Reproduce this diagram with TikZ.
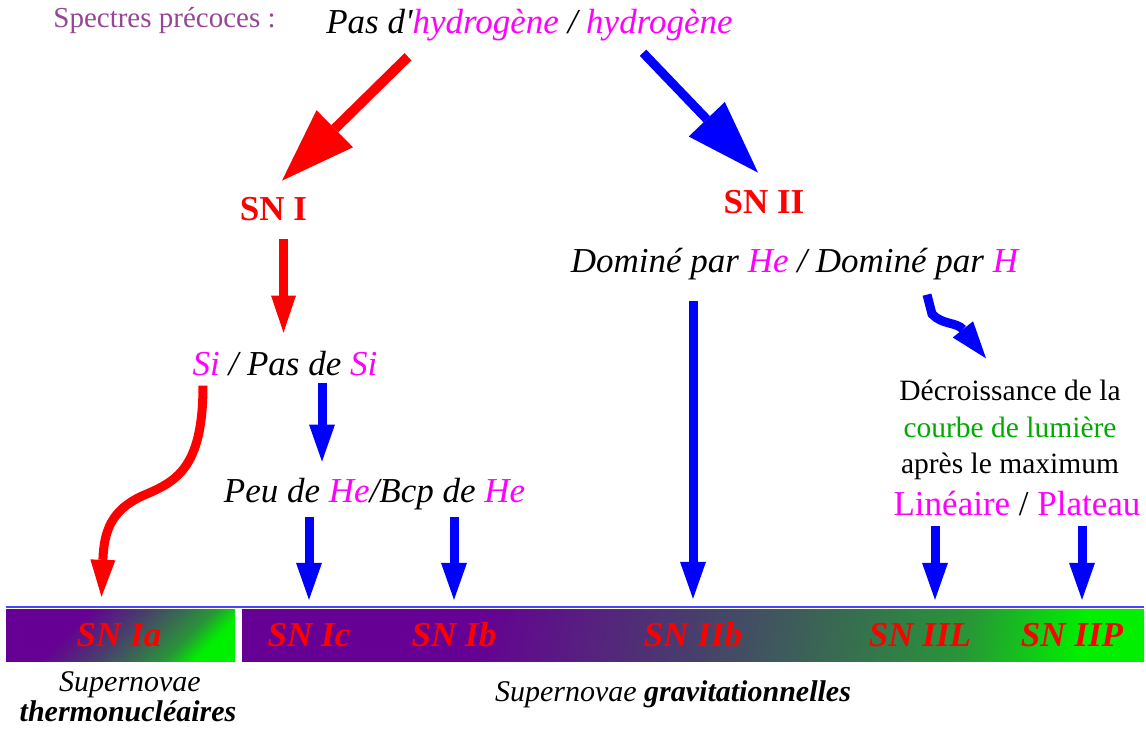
\documentclass[tikz,border=0pt]{standalone}
\usepackage{fontspec}
\setmainfont{Liberation Serif}
\usetikzlibrary{arrows.meta}

\definecolor{snred}{RGB}{255,0,0}
\definecolor{snblue}{RGB}{0,0,255}
\definecolor{hmag}{RGB}{255,0,255}
\definecolor{spcol}{RGB}{150,70,150}
\definecolor{lumgreen}{RGB}{0,170,0}
\definecolor{bandpurple}{RGB}{102,0,148}
\definecolor{bandmid}{RGB}{72,62,108}
\definecolor{bandgrey}{RGB}{55,110,80}
\definecolor{banddark}{RGB}{40,150,55}
\definecolor{bandgreen}{RGB}{0,240,0}
\definecolor{lineblue}{RGB}{70,70,255}

\pgfdeclarehorizontalshading{bandshade}{100bp}{color(0bp)=(bandpurple); color(25bp)=(bandpurple);
	color(36bp)=(bandpurple); color(50bp)=(bandmid); color(60bp)=(bandgrey); color(67.5bp)=(banddark);
	color(75bp)=(bandgreen); color(100bp)=(bandgreen)}

\newcommand{\setsz}[1]{\fontsize{#1}{#1}\selectfont}

\begin{document}
\begin{tikzpicture}[x=1pt,y=-1pt,
	every node/.style={inner sep=0pt,anchor=base},
	it/.style={font=\setsz{35}\itshape},
	sn/.style={font=\setsz{35}\bfseries,text=snred},
	lab/.style={font=\setsz{35}\bfseries\itshape,text=snred},
	redarr/.style={draw=snred,line width=9pt,-{Triangle[width=25pt,length=37pt,line width=0pt]}},
	bluearr/.style={draw=snblue,line width=9pt,-{Triangle[width=26pt,length=37pt,line width=0pt]}},
	redbig/.style={draw=snred,line width=10pt,-{Triangle[width=52pt,length=74pt,line width=0pt]}},
	bluebig/.style={draw=snblue,line width=9pt,-{Triangle[width=50pt,length=74pt,line width=0pt]}},
	band/.style={anchor=center,minimum height=52pt,shade,shading=bandshade}]
	\useasboundingbox (0,0) rectangle (1146,734);

	% textes du haut
	\node[font=\setsz{29},text=spcol] (spec) at (164.5,27) {Spectres précoces :};
	\node[it] (title) at (529.5,33) {Pas d\textquotesingle\textcolor{hmag}{hydrogène} / \textcolor{hmag}{hydrogène}};
	\node[sn] (snI) at (273.5,220) {SN I};
	\node[sn] (snII) at (764,213) {SN II};
	\node[it] (si) at (285,375) {\textcolor{hmag}{Si} / Pas de \textcolor{hmag}{Si}};
	\node[it] (dom) at (794.5,272) {Dominé par \textcolor{hmag}{He} / Dominé par \textcolor{hmag}{H}};
	\node[it] (peu) at (374.5,502) {Peu de \textcolor{hmag}{He}/Bcp de \textcolor{hmag}{He}};
	\node[font=\setsz{29.5}] (dec1) at (1010,400) {Décroissance de la};
	\node[font=\setsz{29.5},text=lumgreen] (dec2) at (1010,437) {courbe de lumière};
	\node[font=\setsz{29.5}] (dec3) at (1010,473) {après le maximum};
	\node[font=\setsz{35}] (lp) at (1017,515) {\textcolor{hmag}{Linéaire} / \textcolor{hmag}{Plateau}};

	% bande des types
	\node[band,minimum width=229pt,shading angle=-45] (bandA) at (120.5,635) {};
	\node[band,minimum width=902pt,shading angle=-10] (bandB) at (693,635) {};
	\draw[lineblue,line width=2pt] ([yshift=2pt]bandA.north west) -- ([yshift=2pt]bandB.north east);
	\foreach \n/\x/\t in {snIa/119/SN Ia,snIc/309/SN Ic,snIb/454/SN Ib,snIIb/693/SN IIb,snIIL/920/SN IIL,snIIP/1072/SN IIP}
		\node[lab] (\n) at (\x,646) {\t};

	\node[font=\setsz{30}\itshape] (thA) at (130,691) {Supernovae};
	\node[font=\setsz{30}\bfseries\itshape] (thB) at (128,721) {thermonucléaires};
	\node[font=\setsz{30}\itshape] (grav) at (673,701) {Supernovae \textbf{gravitationnelles}};

	% fleches
	\draw[redbig] ([xshift=-121.5pt,yshift=-16pt]title.south) -- ([xshift=8.5pt,yshift=16pt]snI.north);
	\draw[bluebig] ([xshift=113.5pt,yshift=-12pt]title.south) -- ([xshift=-6pt,yshift=17pt]snII.north);
	\draw[redarr] ([xshift=10pt,yshift=-18pt]snI.south) -- ([xshift=-1.5pt,yshift=18pt]si.north);
	\draw[redarr] ([xshift=-82pt,yshift=-10pt]si.south) .. controls (203,470) and (175,482) .. (142,496)
		.. controls (112,510) and (104,530) .. ([xshift=-19pt,yshift=12pt]bandA.north);
	\draw[bluearr] ([xshift=37pt,yshift=-7pt]si.south) -- ([xshift=-52.5pt,yshift=16pt]peu.north);
	\foreach \n in {snIc,snIb}
		\draw[bluearr] ([yshift=-7pt]peu.south -| \n) -- ([yshift=9pt]\n |- bandB.north);
	\draw[bluearr] ([yshift=-21pt]dom.south -| snIIb) -- ([yshift=10pt]snIIb |- bandB.north);
	\draw[bluearr] ([xshift=132.5pt,yshift=-15pt]dom.south) -- (932,314) .. controls (942,325) and (957,322) .. ([xshift=-24pt,yshift=21pt]dec1.north);
	\foreach \n/\d in {snIIL/15,snIIP/10}
		\draw[bluearr] ([xshift=\d pt,yshift=-10pt]lp.south -| \n) -- ([xshift=\d pt,yshift=9pt]\n |- bandB.north);
\end{tikzpicture}
\end{document}
